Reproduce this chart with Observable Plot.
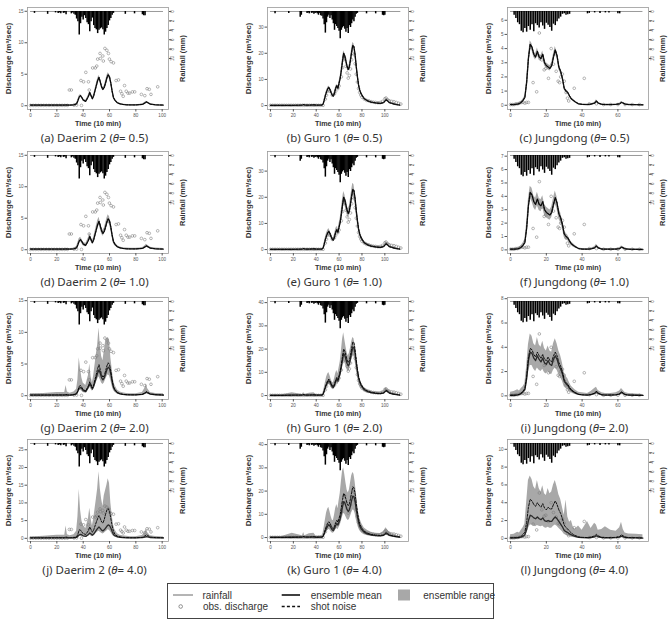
<!DOCTYPE html>
<html><head><meta charset="utf-8">
<script src="https://cdn.jsdelivr.net/npm/d3@7"></script>
<script src="https://cdn.jsdelivr.net/npm/@observablehq/plot@0.6"></script>
<style>
body{margin:0;background:#fff;}
#fig{position:relative;width:670px;height:620px;overflow:hidden;background:#fff;font-family:"Liberation Sans",Arial,sans-serif;}
.panel{position:absolute;}
.panel svg{overflow:visible;}
.cap{position:absolute;width:141px;text-align:center;font-family:"Noto Sans",sans-serif;font-size:11.5px;color:#333;white-space:nowrap;line-height:14px;}
</style></head><body><div id="fig"></div><script>
// ---------- Daerim 2 ----------
const daerimTime = [0,10,20,26,27,28,30,33,35,36, 37,38,39,40,42,44,45,46,47,48, 50,51,52,53,54,55,56,57,58,59, 60,61,62,63,64,66,68,70,73,76, 80,85,87,88,89,91,95,101];
const daerimMean05 = [0.1,0.1,0.1,0.1,0.12,0.1,0.1,0.15,0.3,0.8, 1.4,1.6,1.3,0.9,0.7,1.5,2.1,1.6,1.1,1.6, 3.2,4.0,4.5,3.8,3.0,2.6,2.9,3.6,4.4,4.9, 4.6,3.6,2.3,1.3,0.9,0.45,0.3,0.2,0.15,0.12, 0.12,0.2,0.45,0.6,0.5,0.25,0.15,0.1];
const daerimLo05 = [0.05,0.05,0.05,0.05,0.07,0.05,0.05,0.1,0.2,0.6, 1.2,1.4,1.1,0.75,0.55,1.3,1.85,1.4,0.95,1.4, 2.9,3.7,4.15,3.5,2.75,2.35,2.65,3.3,4.05,4.55, 4.25,3.3,2.05,1.1,0.75,0.35,0.22,0.14,0.1,0.08, 0.08,0.14,0.35,0.48,0.4,0.18,0.1,0.05];
const daerimHi05 = [0.15,0.15,0.15,0.15,0.18,0.15,0.15,0.2,0.4,1.0, 1.6,1.8,1.5,1.05,0.85,1.7,2.35,1.8,1.25,1.8, 3.5,4.3,4.85,4.1,3.25,2.85,3.15,3.9,4.75,5.25, 4.95,3.9,2.55,1.5,1.05,0.55,0.38,0.26,0.2,0.16, 0.16,0.26,0.55,0.72,0.6,0.32,0.2,0.15];
const daerimLo10 = [0.03,0.03,0.03,0.03,0.05,0.03,0.03,0.07,0.15,0.5, 1.05,1.25,1.0,0.65,0.45,1.15,1.65,1.25,0.85,1.25, 2.7,3.45,3.9,3.3,2.55,2.15,2.45,3.1,3.8,4.3, 4.0,3.1,1.9,1.0,0.65,0.3,0.18,0.1,0.07,0.05, 0.05,0.1,0.28,0.4,0.33,0.14,0.07,0.03];
const daerimHi10 = [0.2,0.2,0.2,0.2,0.25,0.2,0.2,0.25,0.5,1.15, 1.8,2.0,1.65,1.2,1.0,1.9,2.6,2.0,1.4,2.0, 3.75,4.6,5.15,4.35,3.5,3.1,3.4,4.15,5.0,5.55, 5.25,4.15,2.75,1.65,1.2,0.65,0.45,0.32,0.26,0.22, 0.22,0.33,0.65,0.85,0.7,0.4,0.26,0.2];
const daerimMean20 = [0.1,0.1,0.1,0.1,0.15,0.1,0.1,0.15,0.3,0.7, 1.2,1.3,1.1,0.8,0.65,1.4,1.9,1.5,1.05,1.5, 2.9,3.6,4.1,3.5,2.8,2.5,2.8,3.4,4.1,4.5, 4.3,3.4,2.2,1.3,0.9,0.45,0.3,0.2,0.15,0.12, 0.12,0.2,0.4,0.55,0.45,0.25,0.15,0.1];
const daerimShot20 = [0.1,0.1,0.12,0.12,0.2,0.12,0.1,0.17,0.35,0.85, 1.5,1.6,1.3,0.95,0.75,1.6,2.2,1.75,1.2,1.75, 3.4,4.3,4.9,4.1,3.3,2.9,3.2,3.9,4.7,5.2, 4.9,3.9,2.5,1.45,1.0,0.5,0.33,0.22,0.17,0.13, 0.13,0.22,0.45,0.65,0.52,0.28,0.17,0.11];
const daerimLo20 = [0.02,0.02,0.02,0.02,0.04,0.02,0.02,0.05,0.12,0.35, 0.75,0.85,0.7,0.5,0.4,0.9,1.3,1.0,0.7,1.0, 2.1,2.6,3.0,2.5,2.0,1.75,2.0,2.5,3.0,3.3, 3.1,2.4,1.5,0.85,0.55,0.25,0.15,0.09,0.06,0.04, 0.04,0.09,0.22,0.32,0.26,0.12,0.06,0.02];
const daerimHi20 = [0.3,0.35,0.5,0.5,1.6,0.6,0.4,0.6,1.0,2.5, 6.0,4.2,2.8,2.0,1.6,3.2,5.0,3.0,2.0,3.2, 6.5,8.0,10.7,8.0,6.2,5.5,7.0,8.5,9.0,9.2, 8.8,6.0,4.2,2.5,1.7,0.9,0.6,0.45,0.35,0.3, 0.3,0.5,1.2,1.9,1.1,0.5,0.35,0.3];
const daerimMean40 = [0.1,0.1,0.1,0.1,0.15,0.1,0.1,0.15,0.25,0.6, 1.0,1.1,0.95,0.7,0.55,1.1,1.5,1.2,0.9,1.2, 2.3,2.8,3.2,2.8,2.3,2.1,2.4,2.9,3.4,3.8, 3.6,2.9,1.9,1.1,0.75,0.4,0.25,0.18,0.13,0.11, 0.11,0.18,0.35,0.5,0.4,0.2,0.13,0.1];
const daerimShot40 = [0.1,0.1,0.15,0.15,0.4,0.15,0.12,0.2,0.4,1.2, 2.4,2.3,1.8,1.3,1.1,2.2,3.2,2.5,1.7,2.4, 4.6,5.6,6.4,5.6,4.6,4.3,5.3,6.8,8.0,8.4, 7.6,5.6,3.5,2.0,1.2,0.6,0.4,0.28,0.2,0.15, 0.15,0.28,0.7,1.0,0.8,0.35,0.2,0.12];
const daerimLo40 = [0.01,0.01,0.01,0.01,0.02,0.01,0.01,0.03,0.08,0.25, 0.5,0.55,0.45,0.35,0.28,0.6,0.85,0.65,0.45,0.65, 1.4,1.75,2.0,1.7,1.4,1.25,1.45,1.8,2.1,2.4, 2.2,1.7,1.1,0.6,0.4,0.18,0.1,0.06,0.04,0.03, 0.03,0.06,0.15,0.22,0.18,0.08,0.04,0.01];
const daerimHi40 = [0.4,0.6,0.9,0.9,3.5,1.0,0.7,1.0,2.0,6.0, 13.8,8.0,5.0,3.5,2.8,5.5,8.5,5.5,3.5,5.5, 11.0,14.0,18.8,14.0,11.0,9.0,12.0,13.5,15.0,16.8, 15.5,10.0,6.5,3.8,2.5,1.3,0.9,0.7,0.55,0.45, 0.45,0.8,1.8,2.6,1.6,0.7,0.5,0.4];
const daerimObsTime = [0,2,4,6,8,10,12,14,16,18,20,22,24,26,28, 29.5,31,33,35,38.3,38.7,40.3,42,44,44.6, 47.2,49.2,50.3,51,52.8,53,54.9,55.3,56.5,58, 59.2,59.9,61.2,63,65,66.8,68.4,69.4,70.4,71.4, 72.7,74,75.3,77.4,79.1,84.2,86.8,88.5,90.2,91.5, 96.6];
const daerimObsQ = [0.05,0.05,0.05,0.05,0.05,0.05,0.05,0.05,0.05,0.05,0.05,0.05,0.05,0.05,0.05, 2.5,2.5,0.1,0.1,4.0,0.05,3.8,5.3,3.8,2.5, 6.0,6.0,6.3,7.4,8.3,7.5,7.9,7.1,9.1,8.8, 8.3,7.4,7.0,6.8,4.0,4.1,2.3,1.9,1.5,3.2, 2.3,2.0,2.0,2.2,2.2,1.8,1.6,2.7,2.6,1.8, 3.0];
// rainfall (mm per 10 min), one value per step from t = 0
const daerimRain = [0,0,0,0.4,0,0,0,0,0,0, 0,0,0,0.6,0,0,0,0,0,0.3, 0,0.4,0.3,0.5,0,0.4,0.3,0.7,0,0, 0,0.5,0.3,0.6,0.8,1.6,2.2,5.0,2.6,1.2, 1.8,0.9,1.5,2.4,2.8,4.3,2.2,1.4,3.0,3.6, 3.9,4.7,4.0,3.7,3.5,3.9,5.0,4.4,3.6,3.0, 2.0,1.5,0.8,0.4,0,0,0,0,0,0, 0,0,0.6,0,0,0,0,0,0,0.5, 0,0,0,0,0,0.7,0.9,0.9,0,0, 0,0,0,0,0,0,0,0,0,0, 0,0];

// ---------- Guro 1 ----------
const guroTime = [0,10,19,28,29,30,34,38,40,45, 46,47,48,49,50,51,52,53,54,55, 56,57,58,59,60,61,62,63,64,65, 66,67,68,69,70,71,72,73,74,75, 76,77,78,79,80,82,85,88,92,96, 99,101,102,104,107,110,113];
const guroMean05 = [0.1,0.1,0.1,0.2,0.4,0.2,0.15,0.3,0.15,0.2, 0.5,2.0,3.8,5.2,6.3,7.0,6.2,5.0,4.0,3.6, 4.8,6.6,7.6,6.6,8.6,10.5,13.5,17.0,20.0,19.0, 17.0,15.0,13.8,14.8,17.5,20.5,23.0,22.5,19.5,15.0, 11.2,8.0,6.0,4.8,4.0,2.6,1.8,1.3,1.0,0.8, 1.1,2.2,2.0,1.1,0.7,0.4,0.2];
const guroLo05 = [0.05,0.05,0.05,0.12,0.3,0.12,0.1,0.2,0.1,0.12, 0.35,1.7,3.4,4.7,5.8,6.5,5.7,4.6,3.6,3.2, 4.3,6.0,7.0,6.0,7.9,9.7,12.6,16.0,19.0,18.0, 16.0,14.1,12.9,13.9,16.5,19.4,21.9,21.4,18.5,14.1, 10.4,7.3,5.4,4.3,3.6,2.3,1.55,1.1,0.85,0.65, 0.9,1.9,1.7,0.9,0.55,0.3,0.12];
const guroHi05 = [0.15,0.15,0.15,0.28,0.5,0.28,0.2,0.4,0.2,0.28, 0.65,2.3,4.2,5.7,6.8,7.5,6.7,5.4,4.4,4.0, 5.3,7.2,8.2,7.2,9.3,11.3,14.4,18.0,21.0,20.0, 18.0,15.9,14.7,15.7,18.5,21.6,24.1,23.6,20.5,15.9, 12.0,8.7,6.6,5.3,4.4,2.9,2.05,1.5,1.15,0.95, 1.3,2.5,2.3,1.3,0.85,0.5,0.28];
const guroLo10 = [0.03,0.03,0.03,0.08,0.22,0.08,0.06,0.15,0.06,0.08, 0.28,1.5,3.1,4.3,5.4,6.0,5.3,4.2,3.3,2.9, 3.9,5.5,6.4,5.5,7.3,9.0,11.8,15.0,17.9,17.0, 15.1,13.3,12.1,13.0,15.5,18.3,20.7,20.3,17.5,13.3, 9.8,6.8,5.0,3.9,3.3,2.0,1.35,0.95,0.7,0.55, 0.75,1.65,1.5,0.75,0.45,0.22,0.08];
const guroHi10 = [0.2,0.2,0.2,0.35,0.65,0.35,0.28,0.5,0.28,0.35, 0.8,2.6,4.6,6.2,7.3,8.1,7.2,5.9,4.8,4.4, 5.8,7.8,8.9,7.8,10.0,12.1,15.3,19.1,22.2,21.1, 19.0,16.8,15.6,16.7,19.6,22.8,25.4,24.8,21.6,16.8, 12.7,9.3,7.1,5.8,4.8,3.2,2.3,1.7,1.35,1.1, 1.5,2.8,2.6,1.5,1.0,0.6,0.35];
const guroMean20 = [0.1,0.1,0.15,0.2,0.4,0.2,0.2,0.3,0.15,0.2, 0.5,1.8,3.4,4.7,5.7,6.4,5.8,4.7,3.8,3.4, 4.4,6.0,7.0,6.2,7.8,9.5,12.2,15.3,18.0,17.3, 15.5,13.8,12.8,13.6,15.8,18.5,20.8,20.6,18.0,14.0, 10.5,7.6,5.8,4.6,3.8,2.5,1.7,1.25,0.95,0.8, 1.05,2.0,1.85,1.05,0.65,0.4,0.2];
const guroShot20 = [0.1,0.1,0.15,0.22,0.45,0.22,0.2,0.32,0.16,0.22, 0.55,2.0,3.8,5.2,6.3,7.1,6.4,5.2,4.2,3.8, 4.9,6.7,7.8,6.9,8.7,10.6,13.6,17.0,20.0,19.2, 17.2,15.3,14.2,15.1,17.5,20.5,23.0,22.8,19.9,15.5, 11.6,8.4,6.4,5.1,4.2,2.8,1.9,1.4,1.05,0.9, 1.15,2.2,2.05,1.15,0.72,0.44,0.22];
const guroLo20 = [0.02,0.02,0.03,0.05,0.15,0.05,0.05,0.1,0.04,0.05, 0.2,1.1,2.4,3.5,4.4,5.0,4.5,3.6,2.8,2.5, 3.3,4.6,5.5,4.8,6.1,7.5,9.8,12.4,14.8,14.2, 12.6,11.1,10.2,10.9,12.8,15.2,17.2,17.0,14.7,11.2, 8.2,5.8,4.3,3.4,2.8,1.7,1.1,0.8,0.6,0.45, 0.65,1.4,1.3,0.65,0.35,0.15,0.05];
const guroHi20 = [0.3,0.3,1.2,0.5,1.3,0.5,1.0,1.2,0.4,0.5, 1.2,3.2,5.5,7.8,9.2,9.9,8.6,7.0,5.8,5.4, 7.2,9.4,10.8,9.4,12.0,14.6,19.0,24.0,27.0,24.0, 21.0,18.4,17.0,18.2,20.5,23.0,25.0,24.4,21.5,17.2, 13.0,9.6,7.4,6.0,5.0,3.5,2.5,1.9,1.5,1.3, 1.9,3.2,2.8,1.7,1.1,0.7,0.4];
const guroMean40 = [0.1,0.1,0.12,0.18,0.35,0.18,0.16,0.25,0.13,0.18, 0.45,1.5,2.9,4.0,4.9,5.5,5.0,4.1,3.3,3.0, 3.9,5.2,6.0,5.4,6.7,8.2,10.5,13.2,15.5,15.0, 13.5,12.0,11.2,11.9,13.8,16.0,17.8,17.6,15.5,12.0, 9.1,6.6,5.0,4.0,3.3,2.2,1.5,1.1,0.85,0.7, 0.95,1.7,1.6,0.9,0.6,0.35,0.18];
const guroShot40 = [0.1,0.1,0.15,0.22,0.45,0.22,0.2,0.32,0.16,0.22, 0.55,1.9,3.6,5.0,6.1,6.8,6.2,5.1,4.1,3.7, 4.8,6.4,7.4,6.6,8.3,10.1,13.0,16.3,19.0,18.3, 16.5,14.7,13.7,14.5,16.8,19.5,21.8,21.5,18.9,14.7, 11.1,8.1,6.1,4.9,4.0,2.7,1.85,1.35,1.05,0.88, 1.15,2.1,1.95,1.1,0.72,0.43,0.22];
const guroLo40 = [0.01,0.01,0.02,0.03,0.08,0.03,0.03,0.06,0.02,0.03, 0.1,0.7,1.6,2.4,3.0,3.5,3.2,2.5,2.0,1.8, 2.4,3.3,3.9,3.4,4.3,5.3,6.9,8.8,10.4,10.0, 8.9,7.9,7.3,7.8,9.1,10.6,11.9,11.8,10.3,7.8, 5.8,4.1,3.0,2.4,1.9,1.2,0.8,0.55,0.4,0.3, 0.45,0.95,0.9,0.45,0.25,0.1,0.03];
const guroHi40 = [0.5,0.5,1.8,0.8,2.2,0.8,1.6,1.8,0.6,0.8, 1.9,4.5,7.5,10.5,12.2,13.0,11.2,9.2,7.6,7.2, 9.6,12.5,14.2,12.4,15.8,19.0,24.0,28.5,30.0,27.0, 23.5,20.5,19.2,20.5,23.5,26.5,28.0,27.2,24.0,19.5, 14.8,11.0,8.5,7.0,5.8,4.1,3.0,2.3,1.9,1.7, 2.6,4.2,3.6,2.2,1.4,0.9,0.5];
const guroObsTime = [0,2,4,6,8,10,12,14,16,18,20,22,24,26,28,30,32,34,36,38,40,42,44,46, 48,49,50,51,52,54,56,57,59,60, 62,63,64,65,66,67,68,69,70,71, 72,73,74,75,76,77,78,79,80,82, 84,86,88,90,92,94,96,98,100,101, 102,103,104,106,108,110,112,114];
const guroObsQ = [0.1,0.1,0.1,0.1,0.1,0.1,0.1,0.1,0.1,0.1,0.1,0.1,0.1,0.1,0.1,0.1,0.1,0.1,0.1,0.1,0.1,0.1,0.1,0.1, 2.5,4.0,5.5,6.0,5.5,4.0,4.5,5.5,6.5,7.5, 11.0,14.5,17.5,18.0,15.0,12.5,10.5,11.5,14.0,17.5, 20.0,19.5,16.0,12.0,9.0,6.5,5.0,4.0,3.2,2.5, 2.0,1.8,1.5,1.3,1.2,1.1,1.2,1.6,2.6,2.9, 2.3,2.0,1.8,1.6,1.5,1.2,0.9,0.6];
const guroRain = [0,0,0,0,0.5,0,0,0,0,0, 0,0,0,0,0,0,0.4,0,0,0, 0,0,0,0,0,0,1.2,0.8,0,0, 0,0,0.4,0.3,0.5,0,0.4,0.3,0.6,0.4, 0.3,0.5,0.8,0.4,0.9,1.0,1.6,2.8,4.6,2.4, 1.2,0.8,1.5,0.9,1.8,2.6,4.0,2.8,3.2,3.6, 4.2,5.8,4.0,3.5,3.2,3.8,4.4,3.6,4.7,3.0, 3.4,2.6,1.8,2.2,1.2,0.6,0.4,0,0,0, 0,0,0,0,0.5,0,0,0,0,0, 0,0,0.5,0,0,0,0,0,0.8,0.9, 0.8,0,0,0,0,0,0,0,0,0, 0,0,0,0,0];

// ---------- Jungdong ----------
const jungdongTime = [0,2,4,5,6,7,8,9,10,11, 12,13,14,15,16,17,18,19,20,21, 22,23,24,25,26,27,28,29,30,31, 32,33,34,35,36,38,40,43,45,47, 48,49,51,53,56,59,61,62,63,64, 66,70,74];
const jungdongMean05 = [0.05,0.05,0.08,0.12,0.2,0.35,0.55,1.6,3.3,4.3, 4.1,3.6,3.4,3.8,3.4,3.3,3.6,3.0,2.8,2.7, 2.6,2.8,3.4,3.9,3.5,2.7,2.4,1.9,1.2,1.0, 0.9,0.65,0.45,0.35,0.25,0.1,0.06,0.05,0.08,0.15, 0.3,0.15,0.06,0.05,0.05,0.06,0.1,0.2,0.15,0.08, 0.05,0.04,0.03];
const jungdongLo05 = [0.02,0.02,0.04,0.07,0.14,0.27,0.45,1.4,3.05,4.05, 3.85,3.38,3.18,3.55,3.18,3.08,3.37,2.8,2.6,2.5, 2.42,2.6,3.18,3.65,3.27,2.5,2.22,1.75,1.08,0.88, 0.8,0.56,0.38,0.28,0.19,0.07,0.03,0.02,0.05,0.1, 0.22,0.1,0.03,0.02,0.02,0.03,0.06,0.14,0.1,0.05, 0.02,0.02,0.01];
const jungdongHi05 = [0.08,0.08,0.12,0.17,0.26,0.43,0.65,1.8,3.55,4.55, 4.35,3.82,3.62,4.05,3.62,3.52,3.83,3.2,3.0,2.9, 2.78,3.0,3.62,4.15,3.73,2.9,2.58,2.05,1.32,1.12, 1.0,0.74,0.52,0.42,0.31,0.13,0.09,0.08,0.11,0.2, 0.38,0.2,0.09,0.08,0.08,0.09,0.14,0.26,0.2,0.11, 0.08,0.06,0.05];
const jungdongLo10 = [0.01,0.01,0.02,0.05,0.1,0.2,0.35,1.2,2.8,3.85, 3.6,3.15,2.95,3.3,2.95,2.85,3.15,2.6,2.4,2.3, 2.22,2.4,2.95,3.4,3.05,2.3,2.02,1.58,0.95,0.76, 0.7,0.48,0.32,0.22,0.15,0.05,0.02,0.01,0.03,0.07, 0.17,0.07,0.02,0.01,0.01,0.02,0.04,0.11,0.07,0.03, 0.01,0.01,0.01];
const jungdongHi10 = [0.1,0.1,0.15,0.22,0.32,0.52,0.78,2.0,3.8,4.75, 4.6,4.05,3.85,4.3,3.85,3.75,4.05,3.4,3.2,3.1, 2.98,3.2,3.85,4.4,3.95,3.1,2.78,2.22,1.45,1.24, 1.1,0.82,0.58,0.48,0.35,0.15,0.1,0.09,0.13,0.23, 0.43,0.23,0.1,0.09,0.09,0.1,0.16,0.29,0.23,0.13, 0.09,0.07,0.06];
const jungdongMean20 = [0.05,0.05,0.08,0.12,0.2,0.35,0.5,1.4,2.9,3.6, 3.5,3.1,2.9,3.3,3.0,2.8,3.1,2.7,2.6,2.9, 2.6,2.5,3.0,3.3,3.0,2.5,2.2,1.8,1.2,1.0, 0.85,0.6,0.45,0.35,0.25,0.12,0.08,0.06,0.1,0.2, 0.35,0.2,0.08,0.06,0.06,0.08,0.15,0.3,0.2,0.1, 0.06,0.05,0.04];
const jungdongShot20 = [0.05,0.05,0.08,0.13,0.22,0.4,0.6,1.6,3.2,3.9, 3.8,3.4,3.2,3.6,3.3,3.1,3.4,3.0,2.9,3.2, 2.9,2.8,3.3,3.6,3.3,2.75,2.45,2.0,1.35,1.1, 0.95,0.68,0.5,0.38,0.28,0.13,0.09,0.07,0.11,0.22, 0.38,0.22,0.09,0.07,0.07,0.09,0.17,0.33,0.22,0.11, 0.07,0.05,0.04];
const jungdongLo20 = [0.0,0.0,0.02,0.04,0.08,0.15,0.25,0.8,1.9,2.5, 2.5,2.2,2.0,2.3,2.1,2.0,2.2,1.9,1.8,2.0, 1.8,1.75,2.1,2.3,2.1,1.75,1.5,1.2,0.75,0.6, 0.5,0.35,0.25,0.18,0.12,0.04,0.02,0.01,0.03,0.07, 0.15,0.07,0.02,0.01,0.01,0.02,0.05,0.12,0.07,0.03, 0.01,0.01,0.0];
const jungdongHi20 = [0.3,0.35,0.5,0.4,0.6,0.75,1.0,2.4,4.2,5.1, 4.9,4.3,4.1,4.8,4.2,4.0,4.5,3.9,3.7,4.1, 3.7,3.6,4.3,4.7,4.3,3.7,3.3,2.7,1.9,1.6, 1.4,1.05,0.8,0.65,0.5,0.3,0.25,0.2,0.35,0.6, 0.7,0.45,0.25,0.2,0.2,0.25,0.4,0.6,0.45,0.28, 0.2,0.15,0.12];
const jungdongMean40 = [0.05,0.05,0.07,0.1,0.15,0.25,0.4,1.0,2.0,2.6, 2.5,2.3,2.2,2.4,2.2,2.1,2.3,2.0,1.9,2.0, 1.9,1.9,2.2,2.4,2.2,1.9,1.6,1.3,0.9,0.75, 0.65,0.5,0.4,0.3,0.22,0.12,0.08,0.06,0.1,0.18, 0.3,0.18,0.08,0.06,0.06,0.08,0.14,0.25,0.18,0.1, 0.06,0.05,0.04];
const jungdongShot40 = [0.05,0.06,0.1,0.15,0.25,0.45,0.7,1.8,3.5,4.4, 4.2,3.8,3.6,4.0,3.7,3.5,3.9,3.4,3.2,3.5, 3.3,3.3,3.8,4.2,3.8,3.2,2.8,2.2,1.5,1.2, 1.05,0.8,0.6,0.45,0.33,0.18,0.12,0.09,0.15,0.28, 0.45,0.28,0.12,0.09,0.09,0.12,0.22,0.4,0.28,0.15, 0.09,0.07,0.05];
const jungdongLo40 = [0.0,0.0,0.01,0.02,0.04,0.08,0.15,0.5,1.1,1.5, 1.5,1.4,1.3,1.45,1.35,1.3,1.4,1.2,1.15,1.25, 1.15,1.15,1.35,1.5,1.35,1.15,0.95,0.75,0.45,0.35, 0.3,0.2,0.14,0.1,0.06,0.02,0.01,0.0,0.01,0.03, 0.08,0.03,0.01,0.0,0.0,0.01,0.03,0.07,0.03,0.01, 0.0,0.0,0.0];
const jungdongHi40 = [0.4,0.45,0.7,0.6,0.9,1.2,1.6,4.0,6.5,7.0, 6.6,5.8,5.5,6.5,5.6,5.2,5.9,5.0,4.8,5.6, 5.0,5.2,6.0,6.5,5.8,4.9,4.4,3.5,2.6,4.3, 2.4,1.8,2.0,1.3,1.0,1.4,0.9,1.9,1.1,1.7, 1.5,0.9,1.0,1.3,0.9,0.8,1.2,1.8,1.0,0.6, 0.5,0.45,0.4];
const jungdongObsTime = [0,1,2,3,4,5,6,7,8,9,10, 12.6,14.6,16.1,17.5,18.8,19.7,21.2,22.7,24,25.5, 26.6,27.4,28,29,30,31,31.8,32.5,35.6,41.2, 44,48,52,56,60,64,68,72];
const jungdongObsQ = [0.05,0.05,0.05,0.1,0.1,0.15,0.2,0.2,0.15,0.2,0.2, 1.6,0.95,5.1,3.2,2.5,2.6,1.9,4.0,2.9,2.4, 1.7,1.6,2.0,2.2,1.7,0.9,0.5,0.3,1.2,1.9, 0.1,0.1,0.05,0.05,0.05,0.05,0.05,0.05];
const jungdongRain = [0,0,0.8,1.5,2.4,2.8,4.2,4.5,3.6,4.4, 3.2,4.0,2.8,4.3,2.6,3.0,3.5,2.4,3.1,3.8, 2.5,2.9,3.4,4.2,2.7,3.0,2.2,1.6,1.2,0.6, 0.5,0.8,0.7,0.6,0,0,0,0,0,0, 0,0,0,0.5,0.4,0,0,0.3,0,0, 0.4,0,0,0.3,0,0.3,0,0,0,0, 0.5,0.5,0,0,0,0,0,0,0,0, 0,0,0,0,0];

// ---------- shared axis values ----------
const rainTicks = [0, 2, 4, 6, 8, 10];
const rainAxisMM = [-0.85, 20.85];   // rainfall (mm) at the top and bottom of each frame
const thetaLabels = ["0.5", "1.0", "2.0", "4.0"];

const sites = {
  daerim:   {name: "Daerim 2", time: daerimTime, rain: daerimRain, obsT: daerimObsTime, obsQ: daerimObsQ, xDomain: [-2.3, 104.8], xTicks: [0, 20, 40, 60, 80, 100]},
  guro:     {name: "Guro 1", time: guroTime, rain: guroRain, obsT: guroObsTime, obsQ: guroObsQ, xDomain: [-2.6, 120.7], xTicks: [0, 20, 40, 60, 80, 100]},
  jungdong: {name: "Jungdong", time: jungdongTime, rain: jungdongRain, obsT: jungdongObsTime, obsQ: jungdongObsQ, xDomain: [-1.7, 77.1], xTicks: [0, 20, 40, 60]}
};

const panels = [
  {tag: "a", site: "daerim", th: 0, mean: daerimMean05, shot: daerimMean05, lo: daerimLo05, hi: daerimHi05, yDomain: [-0.6, 15.6], yTicks: [0, 5, 10, 15]},
  {tag: "b", site: "guro", th: 0, mean: guroMean05, shot: guroMean05, lo: guroLo05, hi: guroHi05, yDomain: [-1.5, 37.5], yTicks: [0, 10, 20, 30]},
  {tag: "c", site: "jungdong", th: 0, mean: jungdongMean05, shot: jungdongMean05, lo: jungdongLo05, hi: jungdongHi05, yDomain: [-0.3, 6.9], yTicks: [0, 1, 2, 3, 4, 5, 6]},
  {tag: "d", site: "daerim", th: 1, mean: daerimMean05, shot: daerimMean05, lo: daerimLo10, hi: daerimHi10, yDomain: [-0.6, 15.6], yTicks: [0, 5, 10, 15]},
  {tag: "e", site: "guro", th: 1, mean: guroMean05, shot: guroMean05, lo: guroLo10, hi: guroHi10, yDomain: [-1.5, 37.5], yTicks: [0, 10, 20, 30]},
  {tag: "f", site: "jungdong", th: 1, mean: jungdongMean05, shot: jungdongMean05, lo: jungdongLo10, hi: jungdongHi10, yDomain: [-0.27, 7.35], yTicks: [0, 1, 2, 3, 4, 5, 6, 7]},
  {tag: "g", site: "daerim", th: 2, mean: daerimMean20, shot: daerimShot20, lo: daerimLo20, hi: daerimHi20, yDomain: [-0.6, 15.5], yTicks: [0, 5, 10, 15]},
  {tag: "h", site: "guro", th: 2, mean: guroMean20, shot: guroShot20, lo: guroLo20, hi: guroHi20, yDomain: [-1.7, 42.2], yTicks: [0, 10, 20, 30, 40]},
  {tag: "i", site: "jungdong", th: 2, mean: jungdongMean20, shot: jungdongShot20, lo: jungdongLo20, hi: jungdongHi20, yDomain: [-0.3, 8.1], yTicks: [0, 2, 4, 6, 8]},
  {tag: "j", site: "daerim", th: 3, mean: daerimMean40, shot: daerimShot40, lo: daerimLo40, hi: daerimHi40, yDomain: [-0.9, 27.9], yTicks: [0, 5, 10, 15, 20, 25]},
  {tag: "k", site: "guro", th: 3, mean: guroMean40, shot: guroShot40, lo: guroLo40, hi: guroHi40, yDomain: [-1.7, 42.2], yTicks: [0, 10, 20, 30, 40]},
  {tag: "l", site: "jungdong", th: 3, mean: jungdongMean40, shot: jungdongShot40, lo: jungdongLo40, hi: jungdongHi40, yDomain: [-0.35, 11.1], yTicks: [0, 2, 4, 6, 8, 10]}
];

// ---------- layout ----------
const colLeft = [0, 240, 480];
const frameTops = [7, 151, 297, 439];
const M = {left: 27, right: 20, top: 5, bottom: 29};
const frameW = 141, frameH = 102;
const fig = document.getElementById("fig");

function drawPanel(p, idx) {
  const col = idx % 3, row = Math.floor(idx / 3);
  const s = sites[p.site];
  const [yMin, yMax] = p.yDomain;
  // secondary (rainfall) axis, hanging from the top of the frame
  const rainQ = d3.scaleLinear().domain(rainAxisMM).range([yMax, yMin]);
  const rows = s.time.map((t, i) => ({t, mean: p.mean[i], shot: p.shot[i], lo: p.lo[i], hi: p.hi[i]}));
  const obs = s.obsT.map((t, i) => ({t, q: s.obsQ[i]}));
  const rain = s.rain.map((mm, t) => ({t, mm})).filter(d => d.mm > 0);
  const tickStyle = {tickSize: 2.5, tickPadding: 1.5, fontSize: 4.6, color: "#555", label: null};

  const svg = Plot.plot({
    width: M.left + frameW + M.right,
    height: M.top + frameH + M.bottom,
    marginLeft: M.left, marginRight: M.right, marginTop: M.top, marginBottom: M.bottom,
    style: {fontFamily: "'Liberation Sans', Arial, sans-serif", background: "transparent", overflow: "visible"},
    x: {domain: s.xDomain, label: null},
    y: {domain: p.yDomain, label: null},
    marks: [
      Plot.areaY(rows, {x: "t", y1: "lo", y2: "hi", fill: "#a8a8a8", clip: true}),
      Plot.dot(obs, {x: "t", y: "q", r: 1.35, stroke: "#7a7a7a", strokeWidth: 0.55, fill: "none", clip: true}),
      Plot.lineY(rows, {x: "t", y: "mean", stroke: "#2a2a2a", strokeWidth: 1.3, clip: true}),
      Plot.lineY(rows, {x: "t", y: "shot", stroke: "#000", strokeWidth: 0.9, strokeDasharray: "2.2,1.4", clip: true}),
      Plot.ruleY([rainQ(0)], {x1: 0, x2: s.rain.length - 1, stroke: "#555", strokeWidth: 0.6}),
      Plot.ruleX(rain, {x: "t", y1: rainQ(0), y2: d => rainQ(d.mm), stroke: "#000", strokeWidth: 1.5}),
      Plot.frame({stroke: "#9a9a9a", strokeWidth: 0.8}),
      Plot.axisX(s.xTicks, {anchor: "bottom", ...tickStyle}),
      Plot.axisY(p.yTicks, {anchor: "left", ...tickStyle}),
      Plot.axisY(rainTicks.map(v => rainQ(v)), {anchor: "right", ...tickStyle, tickRotate: -90, tickPadding: 3, tickFormat: d => String(Math.round(rainQ.invert(d)))}),
      Plot.text(["Discharge (m³/sec)"], {frameAnchor: "left", textAnchor: "middle", lineAnchor: "middle", dx: -19, rotate: -90, fontSize: 8, fontWeight: "bold", fill: "#333"}),
      Plot.text(["Rainfall (mm)"], {frameAnchor: "right", textAnchor: "middle", lineAnchor: "middle", dx: 14, rotate: -90, fontSize: 7.4, fontWeight: "bold", fill: "#333"}),
      Plot.text(["Time (10 min)"], {frameAnchor: "bottom", textAnchor: "middle", lineAnchor: "middle", dy: 14, fontSize: 7.2, fontWeight: "bold", fill: "#333"})
    ]
  });
  const holder = document.createElement("div");
  holder.className = "panel";
  holder.style.left = colLeft[col] + "px";
  holder.style.top = (frameTops[row] - M.top) + "px";
  holder.appendChild(svg);
  fig.appendChild(holder);

  const cap = document.createElement("div");
  cap.className = "cap";
  cap.style.left = (colLeft[col] + M.left - 3) + "px";
  cap.style.top = (frameTops[row] + 124) + "px";
  cap.innerHTML = `(${p.tag}) ${s.name} (<i>θ</i>= ${thetaLabels[p.th]})`;
  fig.appendChild(cap);
}

panels.forEach(drawPanel);

// ---------- legend ----------
const ns = "http://www.w3.org/2000/svg";
const leg = document.createElementNS(ns, "svg");
leg.setAttribute("width", 328);
leg.setAttribute("height", 37);
leg.style.position = "absolute";
leg.style.left = "167px";
leg.style.top = "583px";
function el(tag, attrs, text) {
  const e = document.createElementNS(ns, tag);
  for (const k in attrs) e.setAttribute(k, attrs[k]);
  if (text) e.textContent = text;
  leg.appendChild(e);
  return e;
}
el("rect", {x: 0.5, y: 0.5, width: 326, height: 35, fill: "#fff", stroke: "#444", "stroke-width": 1});
const legendRows = [12, 23.5];
el("line", {x1: 6, x2: 26, y1: legendRows[0], y2: legendRows[0], stroke: "#444", "stroke-width": 0.8});
el("circle", {cx: 13.7, cy: legendRows[1], r: 1.8, fill: "none", stroke: "#666", "stroke-width": 0.7});
el("line", {x1: 114.7, x2: 133, y1: legendRows[0], y2: legendRows[0], stroke: "#111", "stroke-width": 1.6});
el("line", {x1: 114.7, x2: 133, y1: legendRows[1], y2: legendRows[1], stroke: "#111", "stroke-width": 1.6, "stroke-dasharray": "3,2.2"});
el("rect", {x: 231, y: 6.5, width: 12, height: 11, fill: "#a8a8a8"});
const legendText = [["rainfall", 35.5, 0], ["obs. discharge", 36, 1], ["ensemble mean", 143.7, 0], ["shot noise", 143.7, 1], ["ensemble range", 256.3, 0]];
legendText.forEach(([t, x, r]) => el("text", {x, y: legendRows[r] + 3.5, "font-size": 10, fill: "#333", "font-family": "'Liberation Sans', Arial, sans-serif"}, t));
fig.appendChild(leg);
</script></body></html>
